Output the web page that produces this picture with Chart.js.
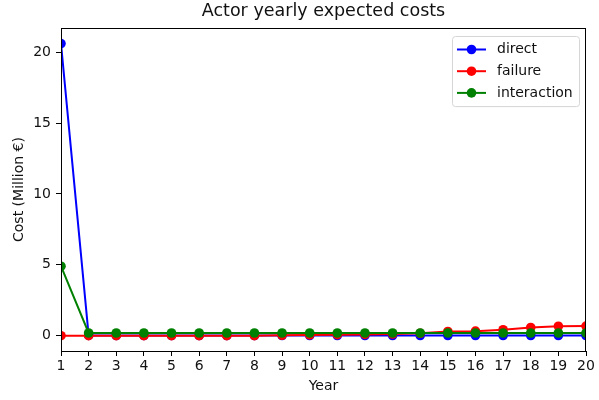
<!DOCTYPE html>
<html>
<head>
<meta charset="utf-8">
<script src="https://cdn.jsdelivr.net/npm/chart.js@4.4.1/dist/chart.umd.min.js"></script>
<style>
    html, body { margin: 0; padding: 0; background: #fff; }
    #wrap { width: 599px; height: 400px; }
</style>
</head>
<body>
<div id="wrap"><canvas id="costChart" width="599" height="400"></canvas></div>
<script>
// values
const years = [1, 2, 3, 4, 5, 6, 7, 8, 9, 10, 11, 12, 13, 14, 15, 16, 17, 18, 19, 20];
const direct = [20.6, 0.02, 0.01, 0.01, 0.01, 0.01, 0.01, 0.01, 0.01, 0.01, 0.01, 0.01, 0.01, 0.01, 0.01, 0.01, 0.01, 0.01, 0.01, 0.01];
const failure = [0, 0, 0, 0, 0, 0, 0, 0, 0.03, 0.05, 0.07, 0.09, 0.12, 0.17, 0.3, 0.32, 0.42, 0.58, 0.67, 0.68];
const interaction = [4.9, 0.19, 0.19, 0.19, 0.19, 0.19, 0.19, 0.19, 0.19, 0.19, 0.19, 0.19, 0.19, 0.19, 0.19, 0.19, 0.19, 0.19, 0.19, 0.19];
const yTicks = [0, 5, 10, 15, 20];

const FONT = "'DejaVu Sans', sans-serif";

function series(label, values, color, order) {
    return {
        label: label,
        data: values.map((v, i) => ({ x: years[i], y: v })),
        borderColor: color,
        backgroundColor: color,
        borderWidth: 2,
        pointRadius: 4.8,
        pointHoverRadius: 4.8,
        pointBorderWidth: 0,
        tension: 0,
        clip: 0,
        order: order
    };
}

// matplotlib-like frame around the plot area
const framePlugin = {
    id: 'frame',
    afterDraw(chart) {
        const { ctx, chartArea: a } = chart;
        ctx.save();
        ctx.strokeStyle = '#000';
        ctx.lineWidth = 1;
        ctx.strokeRect(Math.round(a.left) + 0.5, Math.round(a.top) + 0.5,
            Math.round(a.right - a.left) - 1, Math.round(a.bottom - a.top));
        ctx.restore();
    }
};

// legend drawn inside the axes, upper right
const insideLegend = {
    id: 'insideLegend',
    afterDraw(chart) {
        const { ctx, chartArea: a } = chart;
        const sets = chart.data.datasets;
        const boxW = 127, rowH = 21.7;
        const boxH = sets.length * rowH + 5;
        const x0 = a.right - 7 - boxW, y0 = a.top + 8;
        ctx.save();
        ctx.fillStyle = 'rgba(255,255,255,0.8)';
        ctx.strokeStyle = '#d6d6d6';
        ctx.lineWidth = 1;
        ctx.beginPath();
        ctx.roundRect(x0 + 0.5, y0 + 0.5, boxW, boxH, 3);
        ctx.fill();
        ctx.stroke();
        ctx.font = '14px ' + FONT;
        ctx.textBaseline = 'middle';
        sets.forEach((ds, i) => {
            const y = y0 + 13.5 + i * rowH;
            ctx.strokeStyle = ds.borderColor;
            ctx.lineWidth = 2;
            ctx.beginPath();
            ctx.moveTo(x0 + 5, y);
            ctx.lineTo(x0 + 34, y);
            ctx.stroke();
            ctx.fillStyle = ds.borderColor;
            ctx.beginPath();
            ctx.arc(x0 + 19.5, y, 4.8, 0, Math.PI * 2);
            ctx.fill();
            ctx.fillStyle = '#111';
            ctx.fillText(ds.label, x0 + 45, y);
        });
        ctx.restore();
    }
};

const ctx = document.getElementById('costChart').getContext('2d');
new Chart(ctx, {
    type: 'line',
    data: {
        datasets: [
            series('direct', direct, '#0000ff', 2),
            series('failure', failure, '#ff0000', 1),
            series('interaction', interaction, '#008000', 0)
        ]
    },
    options: {
        responsive: false,
        animation: false,
        layout: { padding: { left: 0, right: 13, top: 0, bottom: 0 } },
        scales: {
            x: {
                type: 'linear',
                min: 1,
                max: 20,
                afterFit: (s) => { s.height = 49; },
                ticks: {
                    stepSize: 1,
                    color: '#111',
                    padding: 2,
                    maxRotation: 0,
                    autoSkip: false,
                    font: { family: FONT, size: 14 }
                },
                grid: { drawOnChartArea: false, drawTicks: true, tickLength: 5, color: '#000' },
                border: { display: false },
                title: {
                    display: true,
                    text: 'Year',
                    color: '#111',
                    padding: { top: 0, bottom: 5 },
                    font: { family: FONT, size: 14 }
                }
            },
            y: {
                min: -1.08,
                max: 21.7,
                afterFit: (s) => { s.width = 61; },
                afterBuildTicks: (s) => { s.ticks = yTicks.map(v => ({ value: v })); },
                ticks: {
                    color: '#111',
                    padding: 5,
                    font: { family: FONT, size: 14 }
                },
                grid: { drawOnChartArea: false, drawTicks: true, tickLength: 5, color: '#000' },
                border: { display: false },
                title: {
                    display: true,
                    text: 'Cost (Million €)',
                    color: '#111',
                    padding: { top: 11, bottom: 0 },
                    font: { family: FONT, size: 14 }
                }
            }
        },
        plugins: {
            legend: { display: false },
            tooltip: { enabled: false },
            title: {
                display: true,
                fullSize: false,
                text: 'Actor yearly expected costs',
                color: '#111',
                padding: { top: 1, bottom: 6 },
                font: { family: FONT, size: 17.5, weight: 'normal' }
            }
        }
    },
    plugins: [framePlugin, insideLegend]
});
</script>
</body>
</html>
